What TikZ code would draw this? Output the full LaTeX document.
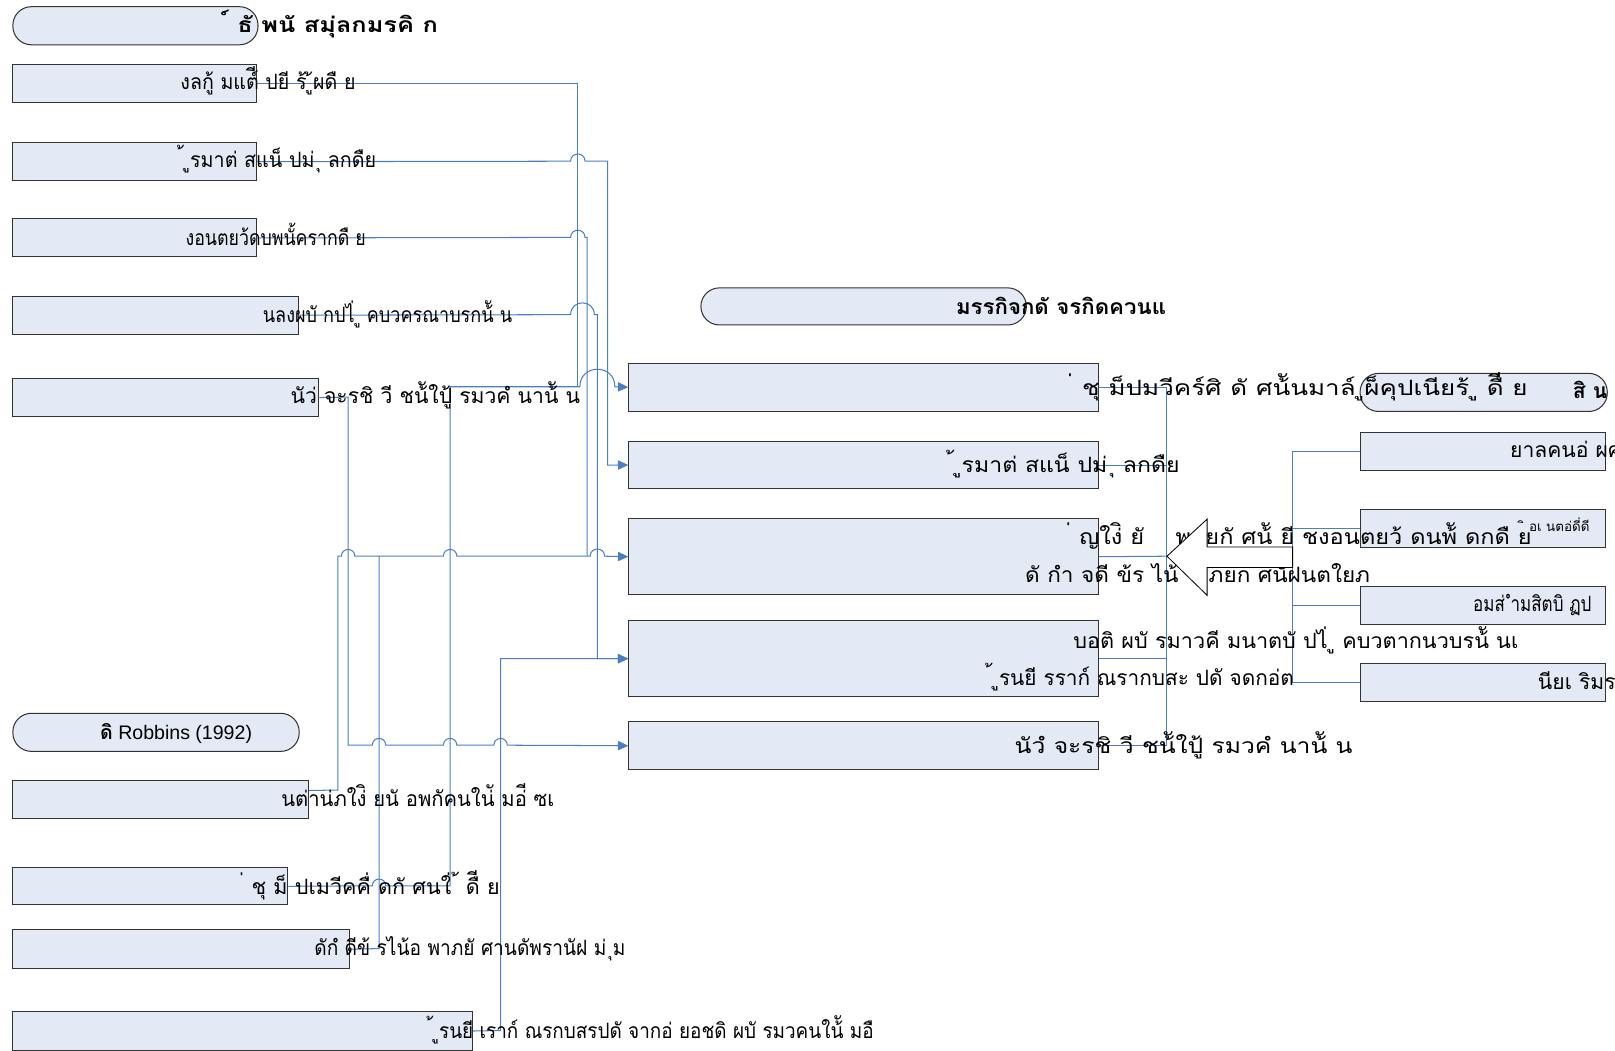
\documentclass[tikz,border=0pt]{standalone}
\usepackage{fontspec}
\usepackage{graphicx}
\setmainfont{Liberation Sans}
\newfontfamily\thai[Script=Thai]{Loma}
\usetikzlibrary{arrows.meta}
\definecolor{boxfill}{HTML}{E4EAF5}
\definecolor{lnblue}{HTML}{4A7EC7}
\newcommand\wtx[2]{\resizebox{#1pt}{\height}{#2}}
\begin{document}
\begin{tikzpicture}[x=1pt,y=-1pt,
  box/.style={draw=black!80, fill=boxfill, line width=1pt, inner sep=0pt, anchor=north west},
  oval/.style={box, rounded corners=18pt},
  txt/.style={anchor=base west, inner sep=0pt, font=\thai\fontsize{20.5}{20.5}\selectfont},
  btxt/.style={txt, font=\thai\bfseries\fontsize{20.5}{20.5}\selectfont},
  conn/.style={draw=lnblue, line width=1pt},
  arr/.style={conn, -{Triangle[length=10pt,width=9pt]}}]
\useasboundingbox (0,0) rectangle (1568,1020.4);
% ---------- boxes ----------
\node[oval, minimum width=238pt, minimum height=37pt] (T1) at (12,6) {};
\node[box, minimum width=237pt, minimum height=37pt] (L1) at (12,62) {};
\node[box, minimum width=237pt, minimum height=37pt] (L2) at (12,138) {};
\node[box, minimum width=237pt, minimum height=37pt] (L3) at (12,212) {};
\node[box, minimum width=277pt, minimum height=37pt] (L4) at (12,287) {};
\node[box, minimum width=297pt, minimum height=37pt] (L5) at (12,367) {};
\node[oval, minimum width=278pt, minimum height=37pt] (TR) at (12,692) {};
\node[box, minimum width=287pt, minimum height=37pt] (R1) at (12,757) {};
\node[box, minimum width=267pt, minimum height=36pt] (R2) at (12,842) {};
\node[box, minimum width=327pt, minimum height=38pt] (R3) at (12,902) {};
\node[box, minimum width=446pt, minimum height=37pt] (R4) at (12,982) {};
\node[oval, minimum width=316pt, minimum height=36pt] (T2) at (680,279) {};
\node[box, minimum width=456pt, minimum height=47pt] (M1) at (610,352) {};
\node[box, minimum width=456pt, minimum height=46pt] (M2) at (610,428) {};
\node[box, minimum width=456pt, minimum height=74pt] (M3) at (610,503) {};
\node[box, minimum width=456pt, minimum height=74pt] (M4) at (610,602) {};
\node[box, minimum width=456pt, minimum height=47pt] (M5) at (610,700) {};
\node[oval, minimum width=240pt, minimum height=37pt] (T3) at (1320,362) {};
\node[box, minimum width=238pt, minimum height=37pt] (RR1) at (1320,419) {};
\node[box, minimum width=238pt, minimum height=37pt] (RR2) at (1320,494) {};
\node[box, minimum width=238pt, minimum height=37pt] (RR3) at (1320,569) {};
\node[box, minimum width=238pt, minimum height=37pt] (RR4) at (1320,644) {};
% ---------- connectors, left ----------
\draw[conn] (L1.east) -| (561,375.5);
\draw[arr] (L2.east) -- (554,156.5) .. controls (554,147.2) and (568,147.2) .. (568,156.5) -- (590,156.5) |- (M2.west);
\draw[conn] (L3.east) -- (554,230.5) .. controls (554,221.2) and (568,221.2) .. (568,230.5) -- (570,230.5) -- (570,540);
\draw[arr] (L4.east) -- (554,305.5) .. controls (554,290.2) and (577,290.2) .. (577,305.5) -- (580,305.5) |- (M4.west);
\draw[arr] (L5.east) -- (338,385.5) -- (338,723.5)
  -- (361.5,723.5) .. controls (361.5,714.8) and (374.5,714.8) .. (374.5,723.5)
  -- (430.5,723.5) .. controls (430.5,714.8) and (443.5,714.8) .. (443.5,723.5)
  -- (479.5,723.5) .. controls (479.5,714.8) and (492.5,714.8) .. (492.5,723.5)
  -- (M5.west);
\draw[arr] ([yshift=8.5pt]R1.east) -- (328,767) -- (328,540)
  -- (331.5,540) .. controls (331.5,531.3) and (344.5,531.3) .. (344.5,540)
  -- (430.5,540) .. controls (430.5,531.3) and (443.5,531.3) .. (443.5,540)
  -- (573,540) .. controls (573,530.7) and (587,530.7) .. (587,540)
  -- (M3.west);
\draw[arr] (R2.east) -- (361.5,860) .. controls (361.5,851.3) and (374.5,851.3) .. (374.5,860)
  -- (437,860) -- (437,375.5)
  -- (563,375.5) .. controls (563,352.8) and (597,352.8) .. (597,375.5) -- (M1.west);
\draw[conn] (R3.east) -- (368,921) -- (368,540);
\draw[arr] (R4.east) -- (486,1000.5) |- (M4.west);
% ---------- connectors, right ----------
\coordinate (tip) at (1133,540);
\coordinate (tail) at (1255,541);
\draw[conn] (M1.east) -| (tip);
\draw[conn] (M2.east) -| (tip);
\draw[conn] (M3.east) -- (tip);
\draw[conn] (M4.east) -| (tip);
\draw[conn] (M5.east) -| (tip);
\draw[conn] (tail) |- (RR1.west);
\draw[conn] (tail) |- (RR2.west);
\draw[conn] (tail) |- (RR3.west);
\draw[conn] (tail) |- (RR4.west);
% ---------- texts ----------
\node[btxt] (tT1) at (222,32) {\wtx{203}{์ ธั พนั สมุ่ลกมรคิ ก}};
\node[txt] (tL1) at (175,87) {\wtx{170}{งลกู้ มแต์ี ปยี ร้ ู้ผดื ย}};
\node[txt] (tL2) at (178,163) {\wtx{187}{้ ูรมาต่ สแน็ ปม่ ุ ลกดืย}};
\node[txt] (tL3) at (180,238) {\wtx{175}{งอนตยว้ดบพนั้ครากดื ย}};
\node[txt] (tL4) at (255,313) {\wtx{242}{นลงผบั กปไ่ ู คบวครณาบรกน้ั น}};
\node[txt] (tL5) at (282,392) {\wtx{281}{นัว่ จะรชิ วี ชน้ัใปู้ รมวคํ นาน้ั น}};
\node[btxt] (tT2) at (928,305) {\wtx{204}{มรรกิจกดั จรกิดควนแ}};
\node[txt] (tM1) at (1042,384) {\wtx{441}{่ ชุ ม็ปมวีคร์ศิ ดั ศน้ันมาล์ ูผ็คุปเนียร้ ู ดืี ย}};
\node[txt] (tM2) at (926,459) {\wtx{219}{้ ูรมาต่ สแน็ ปม่ ุ ลกดืย}};
\node[txt] (tM3a) at (1040,529) {\wtx{447}{่ ญใง่ิ ยั \quad พกยกั ศน้ั ยี ชงอนตยว้ ดนพ้ั ดกดื ย}};
\node[txt] (tM3b) at (995,566) {\wtx{335}{ดั กำ จดี ข้ร ไน้ \quad ภยก ศนัฝนตใยภ}};
\node[txt] (tM4a) at (1042,630) {\wtx{432}{บอติ ผบั รมาวคี มนาตบั ปไ่ ู คบวตากนวบรน้ั นเ}};
\node[txt] (tM4b) at (963,666) {\wtx{293}{้ ูรนยี รราก์ ณรากบสะ ปดั จดกอ่ต}};
\node[txt] (tM5) at (985,732) {\wtx{328}{นัวํ จะรชิ วี ชน้ัใปู้ รมวคํ นาน้ั น}};
\node[btxt] (tT3) at (1527,387) {สิ น};
\node[txt] (tRR1) at (1466,444) {ยาลคนอ่ ผศก};
\node[txt, font=\thai\fontsize{13}{13}\selectfont] (tRR2) at (1480,516) {ิ อเ นตอ่ดี่ดี};
\node[txt] (tRR3) at (1430,594) {\wtx{115}{อมส่ ำมสิตบิ ฏป}};
\node[txt] (tRR4) at (1493,669) {นียเ ริมร};
\node[txt, font=\fontsize{19}{19}\selectfont] (tRb) at (97,718) {{\thai\bfseries ดิ} Robbins (1992)};
\node[txt] (tR1) at (273,783) {\wtx{265}{นต่าน่ภใง่ิ ยนั อพกัคนใน่ั มอ่ี ซเ}};
\node[txt] (tR2) at (237,868) {\wtx{248}{่ ชุ ม็ ปเมวีคคื่ ดกั ศนใ่ ้ ดืี ย}};
\node[txt] (tR3) at (305,928) {\wtx{302}{ดักํ ดีข้ รไน้อ พาภยั ศานดัพรานัฝ ม่ ุม}};
\node[txt] (tR4) at (420,1008) {\wtx{428}{้ ูรนยี เราก์ ณรกบสรปดั จากอ่ ยอชดิ ผบั รมวคนใน้ั มอื}};
% ---------- block arrow ----------
\draw[fill=white, draw=black, line width=0.8pt] (tip) -- (1172,504) -- (1172,531) -- (1255,531) -- (tail) -- (1255,551) -- (1172,551) -- (1172,578) -- cycle;
\end{tikzpicture}
\end{document}
